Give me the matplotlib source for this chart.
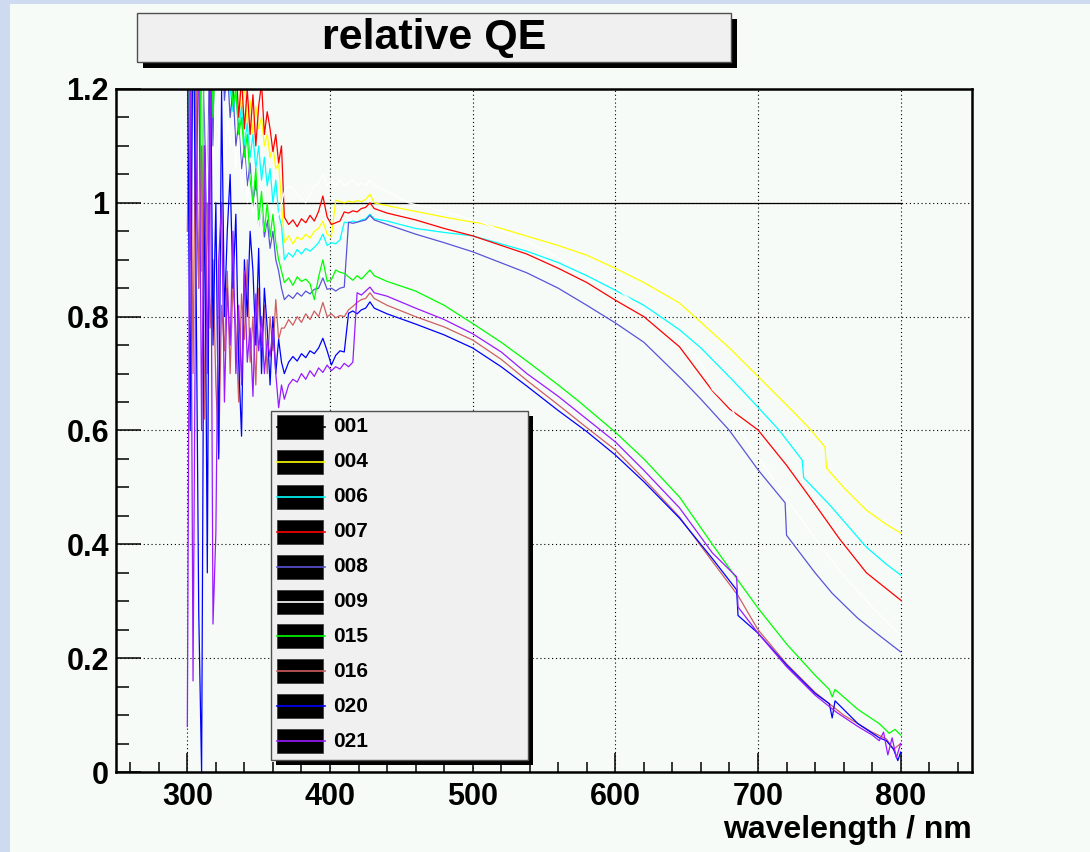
import numpy as np
import matplotlib
matplotlib.use('Agg')
import matplotlib.pyplot as plt
from matplotlib.patches import Rectangle
from matplotlib.ticker import MultipleLocator, FuncFormatter

plt.rcParams['font.family'] = ['Liberation Sans', 'DejaVu Sans']
plt.rcParams['font.weight'] = 'bold'

# tube names and line colours
labels = ['001', '004', '006', '007', '008', '009', '015', '016', '020', '021']
colors = ['#000000', '#ffff00', '#00ffff', '#ff0000', '#5954d8', '#ffffff',
          '#00ff00', '#cf5e61', '#0000ff', '#9a1aff']

# reference tube, divided by itself
wl_001 = [300, 800]
qe_001 = [1.0, 1.0]

# UV part, 2 nm steps (noisy, low light)
wl_uv = np.arange(300, 367, 2)
uv_004 = [1.4, 1.55, 1.32, 1.47, 1.38, 1.5, 1.35, 1.44, 1.3, 1.42, 1.36, 1.33, 1.38, 1.3, 1.34, 1.27, 1.31, 1.24,
          1.22, 1.16, 1.21, 1.14, 1.18, 1.12, 1.17, 1.13, 1.15, 1.1, 1.12, 1.08, 1.1, 1.06, 1.07, 1.0]
uv_006 = [1.35, 1.5, 1.3, 1.45, 1.28, 1.4, 1.33, 1.26, 1.38, 1.3, 1.27, 1.24, 1.3, 1.22, 1.25, 1.2,
          1.16, 1.19, 1.13, 1.17, 1.1, 1.14, 1.08, 1.12, 1.06, 1.1, 1.04, 1.08, 1.03, 1.06, 1.0, 1.04, 0.98, 0.96]
uv_007 = [1.45, 1.6, 1.38, 1.52, 1.41, 1.55, 1.36, 1.48, 1.42, 1.5, 1.33, 1.46, 1.38, 1.35, 1.3,
          1.26, 1.18, 1.25, 1.15, 1.22, 1.13, 1.2, 1.12, 1.19, 1.1, 1.17, 1.21, 1.12, 1.16, 1.13, 1.09, 1.12, 1.07, 1.1]
uv_008 = [1.25, 0.9, 1.35, 1.05, 0.85, 1.3, 1.15, 0.95, 1.4, 1.1, 1.28, 1.2, 1.32, 1.18, 1.24,
          1.15, 1.2, 1.1, 1.14, 1.06, 1.1, 1.03, 1.07, 0.99, 1.04, 0.96, 1.0, 0.94, 0.97, 0.92, 0.95, 0.9, 0.88, 0.85]
uv_009 = [0.8, 1.3, 0.9, 1.25, 1.1, 0.7, 1.35, 1.0, 1.2, 0.95, 1.3, 1.1, 1.25, 1.05, 1.15,
          1.1, 1.15, 1.06, 1.12, 1.02, 1.08, 1.0, 1.05, 0.98, 1.02, 0.96, 1.0, 0.95, 0.98, 0.96, 0.99, 0.97, 0.98, 1.0]
uv_015 = [1.3, 0.95, 1.4, 1.1, 1.5, 0.88, 1.35, 1.25, 1.45, 1.15, 1.3, 1.22, 1.38, 1.26, 1.3,
          1.24, 1.17, 1.2, 1.12, 1.15, 1.08, 1.12, 1.04, 1.0, 1.06, 0.97, 1.02, 0.95, 1.0, 0.94, 0.98, 0.93, 0.9, 0.88]
uv_016 = [0.95, 1.3, 0.7, 1.25, 0.85, 1.1, 0.62, 1.0, 0.78, 0.9, 0.68, 0.56, 0.82, 0.74, 0.88,
          0.7, 0.86, 0.78, 0.65, 0.84, 0.76, 0.9, 0.72, 0.8, 0.68, 0.85, 0.75, 0.82, 0.7, 0.8, 0.74, 0.83, 0.76, 0.78]
uv_020 = [1.3, 0.6, 1.4, 0.9, 0.28, 0.0, 1.1, 0.35, 1.35, 0.75, 1.0, 0.55, 1.2, 0.8, 0.95,
          1.05, 0.85, 0.98, 0.72, 0.59, 0.9, 0.8, 0.95, 0.88, 0.75, 0.92, 0.7, 0.85, 0.78, 0.68, 0.8, 0.7, 0.76, 0.72]
uv_021 = [0.08, 1.2, 0.16, 0.95, 1.3, 0.6, 1.1, 0.7, 1.25, 0.26, 0.42, 0.9, 1.0, 0.65, 0.85,
          0.75, 0.95, 0.7, 0.82, 0.68, 0.88, 0.72, 0.78, 0.66, 0.84, 0.74, 0.8, 0.7, 0.76, 0.73, 0.78, 0.7, 0.64, 0.68]

# filter region, 3 nm steps
wl_mid = np.arange(368, 432, 3)
mid_004 = [0.93, 0.942, 0.928, 0.94, 0.935, 0.945, 0.938, 0.95, 0.955, 0.968, 0.945,
           0.94, 1.005, 1.002, 1.0, 1.003, 1.001, 1.004, 1.002, 1.006, 1.015, 1.0]
mid_006 = [0.9, 0.912, 0.905, 0.918, 0.91, 0.92, 0.915, 0.922, 0.93, 0.945, 0.925,
           0.93, 0.928, 0.935, 0.966, 0.965, 0.968, 0.966, 0.97, 0.972, 0.98, 0.972]
mid_007 = [0.975, 0.962, 0.97, 0.958, 0.972, 0.965, 0.978, 0.968, 0.985, 1.012, 0.975,
           0.962, 0.965, 0.968, 0.984, 0.982, 0.986, 0.984, 0.99, 0.992, 1.0, 0.99]
mid_008 = [0.83, 0.838, 0.832, 0.842, 0.836, 0.845, 0.84, 0.848, 0.85, 0.868, 0.848,
           0.85, 0.845, 0.85, 0.852, 0.966, 0.964, 0.966, 0.968, 0.97, 0.978, 0.97]
mid_009 = [1.02, 1.03, 1.025, 1.015, 1.008, 1.0, 1.015, 1.03, 1.035, 1.05, 1.03,
           1.04, 1.03, 1.04, 1.03, 1.035, 1.04, 1.03, 1.035, 1.03, 1.04, 1.03]
mid_015 = [0.86, 0.868, 0.855, 0.87, 0.862, 0.866, 0.858, 0.83, 0.87, 0.9, 0.862,
           0.865, 0.882, 0.878, 0.876, 0.87, 0.864, 0.872, 0.866, 0.874, 0.882, 0.872]
mid_016 = [0.78, 0.795, 0.785, 0.8, 0.79, 0.805, 0.795, 0.81, 0.8, 0.825, 0.8,
           0.805, 0.798, 0.802, 0.8, 0.812, 0.818, 0.825, 0.83, 0.832, 0.842, 0.832]
mid_020 = [0.7, 0.72, 0.73, 0.722, 0.735, 0.728, 0.74, 0.735, 0.745, 0.762, 0.74,
           0.715, 0.732, 0.74, 0.738, 0.806, 0.81, 0.805, 0.812, 0.815, 0.826, 0.815]
mid_021 = [0.655, 0.68, 0.69, 0.685, 0.7, 0.69, 0.705, 0.695, 0.71, 0.702, 0.715,
           0.705, 0.712, 0.708, 0.718, 0.712, 0.72, 0.842, 0.838, 0.845, 0.852, 0.842]

# visible / red part
vis_wl_004 = [440, 460, 480, 500, 504, 520, 540, 560, 580, 600, 620, 645, 660, 680, 700, 720, 736, 747, 748, 760, 776, 790, 800]
vis_qe_004 = [0.995, 0.985, 0.975, 0.966, 0.965, 0.955, 0.94, 0.925, 0.908, 0.885, 0.86, 0.824, 0.79, 0.745,
              0.695, 0.645, 0.604, 0.571, 0.534, 0.5, 0.46, 0.435, 0.42]
vis_wl_006 = [440, 460, 480, 500, 538, 560, 580, 598, 620, 645, 660, 682, 700, 715, 731, 732, 750, 776, 790, 800]
vis_qe_006 = [0.968, 0.955, 0.948, 0.942, 0.915, 0.895, 0.872, 0.849, 0.82, 0.777, 0.745, 0.689, 0.641, 0.6,
              0.548, 0.517, 0.47, 0.395, 0.365, 0.346]
vis_wl_007 = [440, 460, 480, 500, 538, 560, 580, 600, 620, 645, 668, 680, 700, 720, 740, 757, 776, 800]
vis_qe_007 = [0.982, 0.97, 0.955, 0.942, 0.91, 0.885, 0.86, 0.829, 0.8, 0.747, 0.67, 0.638, 0.601, 0.539,
              0.47, 0.41, 0.35, 0.302]
vis_wl_008 = [440, 460, 480, 500, 538, 560, 580, 600, 620, 647, 660, 680, 700, 719, 720, 740, 752, 770, 785, 800]
vis_qe_008 = [0.962, 0.945, 0.93, 0.914, 0.877, 0.85, 0.82, 0.789, 0.755, 0.689, 0.655, 0.6, 0.531, 0.473,
              0.416, 0.35, 0.314, 0.27, 0.24, 0.211]
vis_wl_009 = [440, 455, 480, 507, 540, 570, 601, 620, 645, 660, 668, 675, 682, 690, 700, 720, 740, 760, 780, 800]
vis_qe_009 = [1.02, 1.0, 0.985, 0.965, 0.93, 0.89, 0.85, 0.81, 0.762, 0.72, 0.672, 0.655, 0.637, 0.59, 0.555,
              0.48, 0.41, 0.345, 0.29, 0.24]
vis_wl_015 = [440, 460, 480, 500, 520, 538, 560, 575, 600, 620, 645, 668, 685, 700, 720, 740, 750, 752, 754,
              770, 785, 792, 796, 800]
vis_qe_015 = [0.862, 0.845, 0.82, 0.788, 0.755, 0.722, 0.68, 0.65, 0.597, 0.55, 0.483, 0.4, 0.34, 0.288,
              0.225, 0.17, 0.145, 0.132, 0.145, 0.11, 0.085, 0.068, 0.075, 0.065]
vis_wl_016 = [440, 460, 480, 500, 520, 538, 560, 580, 600, 620, 645, 668, 686, 700, 720, 740, 760, 780, 790, 795, 800]
vis_qe_016 = [0.82, 0.8, 0.782, 0.759, 0.725, 0.688, 0.645, 0.605, 0.566, 0.515, 0.448, 0.37, 0.31, 0.25,
              0.19, 0.14, 0.1, 0.07, 0.058, 0.04, 0.05]
vis_wl_020 = [440, 460, 480, 500, 520, 538, 560, 580, 600, 620, 645, 668, 685, 686, 700, 720, 740, 750, 752,
              754, 770, 785, 790, 795, 798, 800]
vis_qe_020 = [0.805, 0.787, 0.768, 0.745, 0.712, 0.678, 0.635, 0.598, 0.557, 0.51, 0.446, 0.375, 0.32, 0.275,
              0.244, 0.188, 0.138, 0.12, 0.095, 0.125, 0.085, 0.06, 0.055, 0.04, 0.02, 0.035]
vis_wl_021 = [440, 460, 480, 500, 520, 538, 560, 580, 600, 620, 645, 668, 685, 686, 700, 720, 740, 755, 770,
              780, 785, 788, 791, 794, 797, 800]
vis_qe_021 = [0.836, 0.815, 0.795, 0.77, 0.738, 0.7, 0.66, 0.62, 0.58, 0.53, 0.464, 0.385, 0.343, 0.29,
              0.244, 0.185, 0.135, 0.105, 0.08, 0.065, 0.055, 0.07, 0.03, 0.06, 0.025, 0.05]

series = [
    (uv_004, mid_004, vis_wl_004, vis_qe_004),
    (uv_006, mid_006, vis_wl_006, vis_qe_006),
    (uv_007, mid_007, vis_wl_007, vis_qe_007),
    (uv_008, mid_008, vis_wl_008, vis_qe_008),
    (uv_009, mid_009, vis_wl_009, vis_qe_009),
    (uv_015, mid_015, vis_wl_015, vis_qe_015),
    (uv_016, mid_016, vis_wl_016, vis_qe_016),
    (uv_020, mid_020, vis_wl_020, vis_qe_020),
    (uv_021, mid_021, vis_wl_021, vis_qe_021),
]

W, H = 1090, 852
bg = '#f6fbf8'
fig = plt.figure(figsize=(W / 100, H / 100), dpi=100, facecolor=bg)


def px_rect(x0, y0, x1, y1, **kw):
    # rectangle given in pixels, origin top left
    r = Rectangle((x0 / W, 1 - y1 / H), (x1 - x0) / W, (y1 - y0) / H,
                  transform=fig.transFigure, **kw)
    fig.add_artist(r)
    return r


# light blue window border
px_rect(0, 0, W, 4, facecolor='#cddaf0', edgecolor='none', zorder=0)
px_rect(0, 0, 10, H, facecolor='#cddaf0', edgecolor='none', zorder=0)

ax = fig.add_axes([116 / W, 1 - 772 / H, (972 - 116) / W, (772 - 89) / H])
ax.set_facecolor(bg)

lw = 0.9
ax.plot(wl_001, qe_001, color=colors[0], lw=lw)
for (uv, mid, vwl, vqe), col in zip(series, colors[1:]):
    x = np.concatenate([wl_uv, wl_mid, vwl])
    y = np.concatenate([uv, mid, vqe])
    ax.plot(x, y, color=col, lw=lw)

ax.set_xlim(250, 850)
ax.set_ylim(0, 1.2)
ax.xaxis.set_major_locator(MultipleLocator(100))
ax.xaxis.set_minor_locator(MultipleLocator(20))
ax.yaxis.set_major_locator(MultipleLocator(0.2))
ax.yaxis.set_minor_locator(MultipleLocator(0.05))
ax.yaxis.set_major_formatter(FuncFormatter(lambda v, p: '%g' % round(v, 2)))

ax.tick_params(axis='both', which='both', direction='in', top=False, right=False,
               width=1.1, labelsize=22)
ax.tick_params(axis='x', which='major', length=14, pad=7)
ax.tick_params(axis='x', which='minor', length=7)
ax.tick_params(axis='y', which='major', length=18, pad=5)
ax.tick_params(axis='y', which='minor', length=9)
for s in ax.spines.values():
    s.set_linewidth(1.8)
ax.grid(True, which='major', color='black', linestyle=(0, (1, 2.5)), lw=0.8)
ax.set_axisbelow(True)

fig.text(972 / W, 1 - 830 / H, 'wavelength / nm', ha='right', va='center', fontsize=23)

# title box with shadow
px_rect(143, 19, 737, 68, facecolor='black', edgecolor='none', zorder=3)
px_rect(137, 13, 731, 62, facecolor='#f0f0f0', edgecolor='#505050', lw=1, zorder=4)
fig.text(434 / W, 1 - 38 / H, 'relative QE', ha='center', va='center', fontsize=31, zorder=5)

# legend box with shadow
px_rect(276, 416, 533, 765, facecolor='black', edgecolor='none', zorder=3)
px_rect(271, 411, 528, 760, facecolor='#f0f0f0', edgecolor='#505050', lw=1, zorder=4)
for i, (name, col) in enumerate(zip(labels, colors)):
    yc = 427 + 34.9 * i
    px_rect(277, yc - 12, 323, yc + 12, facecolor='black', edgecolor='#404040', lw=0.6, zorder=5)
    fig.add_artist(plt.Line2D([277 / W, 325 / W], [1 - yc / H, 1 - yc / H], color=col, lw=1.2,
                              transform=fig.transFigure, zorder=6))
    fig.text(333 / W, 1 - yc / H, name, ha='left', va='center', fontsize=15, zorder=6)

fig.savefig('out.png', dpi=100, facecolor=fig.get_facecolor())
